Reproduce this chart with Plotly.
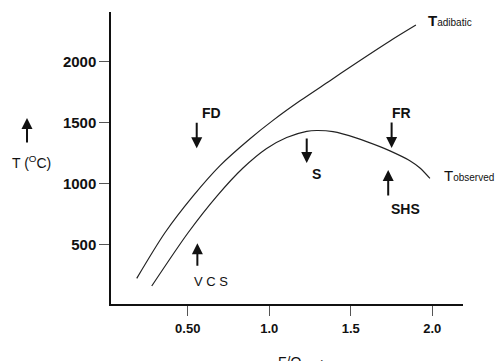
import plotly.graph_objects as go

# Fuel/oxygen ratio vs flame temperature
fo_adiabatic = [0.187, 0.360, 0.532, 0.698, 0.882, 1.023, 1.189, 1.373, 1.495, 1.741, 1.900]
t_adiabatic = [227, 600, 900, 1150, 1370, 1520, 1680, 1845, 1955, 2170, 2300]

fo_observed = [0.279, 0.502, 0.679, 0.839, 0.984, 1.107, 1.230, 1.291, 1.391, 1.537, 1.679, 1.741, 1.863, 1.925, 1.986]
t_observed = [164, 600, 900, 1130, 1290, 1380, 1430, 1437, 1428, 1375, 1305, 1270, 1190, 1130, 1045]

x_ticks = [0.5, 1.0, 1.5, 2.0]
x_tick_text = ["0.50", "1.0", "1.5", "2.0"]
y_ticks = [500, 1000, 1500, 2000]

FONT = "Arial, Liberation Sans, sans-serif"
INK = "#111111"

fig = go.Figure()
for xs, ys in [(fo_adiabatic, t_adiabatic), (fo_observed, t_observed)]:
    fig.add_trace(go.Scatter(
        x=xs, y=ys, mode="lines",
        line=dict(color="#222222", width=1.2, shape="spline", smoothing=0.8),
        showlegend=False, hoverinfo="skip",
    ))

# Arrow markers: (tip x, tip y, vertical pixel offset of the tail)
arrows = [
    (0.555, 1291, -27),  # FD
    (1.230, 1171, -26),  # S
    (1.751, 1294, -27),  # FR
    (1.730, 1114, 27),   # SHS
    (0.559, 514, 24),    # VCS
]
for ax_, ay_, off in arrows:
    fig.add_annotation(
        x=ax_, y=ay_, xref="x", yref="y", text="", showarrow=True,
        ax=0, ay=off, arrowhead=2, arrowsize=1.1, arrowwidth=2,
        arrowcolor=INK, standoff=0, startstandoff=0,
    )

# Zone labels
labels = [
    ("<b>FD</b>", 0.643, 1580, 14),
    ("<b>S</b>", 1.291, 1083, 14),
    ("<b>FR</b>", 1.814, 1584, 14),
    ("<b>SHS</b>", 1.839, 795, 14),
    ("V C S", 0.643, 205, 13),
]
for txt, lx, ly, fs in labels:
    fig.add_annotation(
        x=lx, y=ly, xref="x", yref="y", text=txt, showarrow=False,
        font=dict(family=FONT, size=fs, color=INK),
        xanchor="center", yanchor="middle",
    )

# Curve names
fig.add_annotation(
    x=1.962, y=2335, xref="x", yref="y", showarrow=False,
    text="<b>T</b><span style='font-size:10px'>adibatic</span>",
    font=dict(family=FONT, size=15, color=INK), xanchor="left", yanchor="middle",
)
fig.add_annotation(
    x=2.060, y=1065, xref="x", yref="y", showarrow=False,
    text="T<span style='font-size:10px'>observed</span>",
    font=dict(family=FONT, size=15, color=INK), xanchor="left", yanchor="middle",
)

# Axis titles
fig.add_annotation(
    x=-0.2386, y=0.637, xref="paper", yref="paper", text="", showarrow=True,
    ax=0, ay=26, arrowhead=2, arrowsize=1.1, arrowwidth=2, arrowcolor=INK,
    standoff=0, startstandoff=0,
)
fig.add_annotation(
    x=-0.225, y=0.486, xref="paper", yref="paper", showarrow=False,
    text="T (<sup>O</sup>C)", font=dict(family=FONT, size=14, color=INK),
    xanchor="center", yanchor="middle",
)
fig.add_annotation(
    x=0.54, y=-0.165, xref="paper", yref="paper", showarrow=False,
    text="F/O ⟶", font=dict(family=FONT, size=14, color=INK),
    xanchor="center", yanchor="top",
)

fig.update_layout(
    width=497, height=361,
    margin=dict(l=111, r=34, t=12, b=57),
    paper_bgcolor="white", plot_bgcolor="white",
    font=dict(family=FONT, color=INK),
)
fig.update_xaxes(
    range=[0.029, 2.189], tickvals=x_ticks, ticktext=x_tick_text,
    showgrid=False, zeroline=False, showline=True, linecolor=INK, linewidth=1.5,
    ticks="outside", ticklen=10, tickwidth=1, tickcolor="#555555",
    ticklabelstandoff=2,
    tickfont=dict(family=FONT, size=13, color=INK, weight="bold"),
)
fig.update_yaxes(
    range=[17, 2407], tickvals=y_ticks,
    showgrid=False, zeroline=False, showline=True, linecolor=INK, linewidth=1.5,
    ticks="outside", ticklen=10, tickwidth=1, tickcolor="#555555",
    tickfont=dict(family=FONT, size=15, color=INK, weight="bold"),
)

fig.write_html("out.html")
